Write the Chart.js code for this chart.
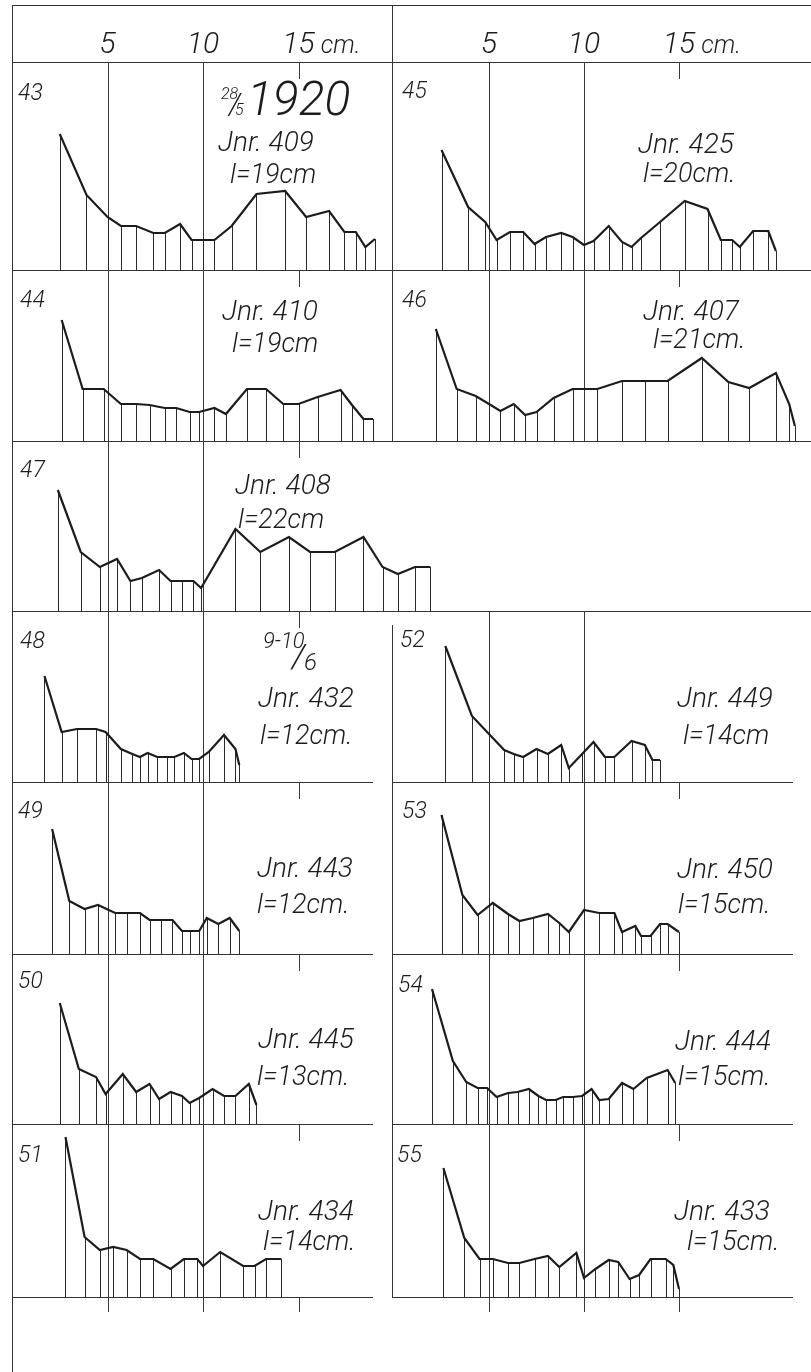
<!DOCTYPE html>
<html>
<head>
<meta charset="utf-8">
<script src="https://cdn.jsdelivr.net/npm/chart.js@4.4.1/dist/chart.umd.min.js"></script>
<style>
html, body { margin: 0; padding: 0; background: #fff; }
#sheet { position: relative; width: 811px; height: 1372px; overflow: hidden; background: #fff; }
.rule { position: absolute; background: #333; }
canvas { position: absolute; }
</style>
</head>
<body>
<div id="sheet"></div>
<script>
// cm scale ticks of the header
const headTicks = [5, 10, 15];
const headLabels = ['5', '10', '15'];

// each profile: positions along the body (cm) and heights
const x43 = [2.5, 3.9, 5.0, 5.7, 6.5, 7.4, 8.0, 8.8, 9.4, 10.0, 10.6, 11.5, 12.8, 14.3, 15.4, 16.6, 17.4, 18.0, 18.5, 19.0];
const y43 = [136, 75, 53, 44, 44, 37, 37, 46, 30, 30, 30, 44, 76, 79, 53, 59, 38, 38, 23, 31];

const x45 = [2.5, 3.9, 4.8, 5.4, 6.1, 6.8, 7.4, 8.0, 8.8, 9.4, 10.0, 10.5, 11.3, 12.0, 12.5, 13.0, 14.0, 15.3, 16.5, 17.2, 17.8, 18.2, 18.9, 19.7, 20.1];
const y45 = [120, 63, 48, 30, 38, 38, 26, 33, 37, 33, 25, 29, 44, 28, 23, 32, 48, 69, 61, 30, 30, 23, 39, 39, 19];

const x44 = [2.6, 3.7, 4.8, 5.7, 6.5, 7.2, 8.0, 8.6, 9.3, 9.8, 10.6, 11.2, 12.3, 13.3, 14.2, 15.0, 16.0, 17.2, 17.8, 18.4, 18.9];
const y44 = [121, 52, 52, 37, 37, 36, 33, 33, 29, 29, 33, 27, 52, 52, 37, 37, 44, 51, 36, 22, 22];

const x46 = [2.2, 3.3, 4.3, 5.0, 5.6, 6.3, 6.9, 7.5, 8.4, 9.4, 10.7, 12.0, 13.2, 14.4, 16.2, 17.6, 18.7, 20.1, 20.8, 21.1];
const y46 = [112, 52, 45, 37, 30, 37, 26, 29, 43, 52, 52, 60, 60, 60, 83, 59, 53, 68, 37, 15];

const x47 = [2.4, 3.6, 4.6, 5.5, 6.2, 6.8, 7.7, 8.3, 8.9, 9.5, 9.9, 11.7, 13.0, 14.5, 15.6, 16.9, 18.4, 19.4, 20.2, 21.1, 21.9];
const y47 = [121, 59, 44, 52, 30, 33, 41, 30, 30, 30, 23, 82, 59, 74, 59, 59, 74, 44, 37, 44, 44];

const x48 = [1.7, 2.6, 3.4, 4.4, 4.9, 5.7, 6.3, 6.7, 7.1, 7.6, 8.1, 8.5, 9.0, 9.4, 9.8, 10.3, 11.1, 11.7, 11.9];
const y48 = [106, 50, 53, 53, 50, 33, 28, 25, 29, 25, 25, 25, 29, 23, 23, 30, 47, 33, 17];

const x52 = [2.7, 4.1, 5.0, 5.8, 6.3, 6.8, 7.5, 8.1, 8.8, 9.2, 9.9, 10.5, 11.1, 11.6, 12.5, 13.2, 13.6, 14.0];
const y52 = [136, 66, 48, 32, 28, 25, 33, 28, 37, 14, 28, 40, 25, 25, 41, 37, 22, 22];

const x49 = [2.1, 3.0, 3.8, 4.5, 5.4, 6.0, 6.7, 7.2, 7.8, 8.4, 8.9, 9.3, 9.8, 10.2, 10.8, 11.4, 11.9];
const y49 = [125, 53, 45, 49, 41, 41, 41, 34, 34, 34, 23, 23, 23, 36, 30, 36, 23];

const x53 = [2.5, 3.6, 4.4, 5.2, 6.0, 6.6, 7.3, 8.1, 8.7, 9.2, 10.0, 10.8, 11.6, 12.0, 12.7, 13.0, 13.5, 14.0, 14.4, 15.0];
const y53 = [139, 59, 39, 51, 40, 33, 36, 40, 31, 22, 44, 41, 41, 22, 28, 18, 18, 30, 30, 22];

const x50 = [2.5, 3.5, 4.4, 4.9, 5.8, 6.5, 7.2, 7.7, 8.3, 8.9, 9.3, 9.8, 10.5, 11.1, 11.7, 12.4, 12.8];
const y50 = [121, 55, 47, 30, 50, 32, 40, 25, 32, 28, 21, 26, 35, 28, 28, 40, 19];

const x54 = [2.0, 3.1, 3.8, 4.4, 4.9, 5.4, 6.0, 6.5, 7.1, 7.6, 8.0, 8.5, 8.9, 9.4, 9.9, 10.4, 10.8, 11.3, 12.0, 12.6, 13.3, 14.4, 14.8];
const y54 = [135, 63, 42, 36, 36, 27, 31, 32, 35, 28, 24, 24, 27, 27, 28, 35, 24, 25, 41, 35, 46, 54, 41];

const x51 = [2.8, 3.8, 4.6, 5.3, 6.0, 6.7, 7.4, 8.3, 9.0, 9.7, 10.0, 10.9, 12.1, 12.7, 13.3, 14.1];
const y51 = [160, 60, 47, 50, 47, 38, 38, 28, 38, 38, 31, 45, 31, 31, 38, 38];

const x55 = [2.6, 3.7, 4.5, 5.2, 6.0, 6.6, 7.4, 8.1, 8.7, 9.6, 10.0, 10.6, 11.3, 11.8, 12.4, 12.9, 13.5, 14.3, 14.7, 15.0];
const y55 = [129, 59, 38, 38, 34, 34, 38, 41, 30, 44, 19, 28, 37, 35, 18, 22, 38, 38, 32, 8];

// layout of the sheet (page pixels)
const ROW_EDGES = [62, 270, 441, 611, 782, 954, 1124, 1297];
const COLS = {
    L: { left: 12, width: 382, max: 20 },
    R: { left: 394, width: 418, max: 22 },
    W: { left: 12, width: 450, max: 450 / 19.1 }
};
const FONT = 'Roboto, "Liberation Sans", "DejaVu Sans", sans-serif';
const INK = '#1c1c1c';

const panels = [
    { name: '43', col: 'L', row: 1, xs: x43, ys: y43, jnr: 'Jnr. 409', len: 'l=19cm',
      num: [18, 100], jp: [218, 151], lp: [230, 183] },
    { name: '45', col: 'R', row: 1, xs: x45, ys: y45, jnr: 'Jnr. 425', len: 'l=20cm.',
      num: [402, 98], jp: [638, 153], lp: [643, 182] },
    { name: '44', col: 'L', row: 2, xs: x44, ys: y44, jnr: 'Jnr. 410', len: 'l=19cm',
      num: [20, 307], jp: [222, 320], lp: [232, 352] },
    { name: '46', col: 'R', row: 2, xs: x46, ys: y46, jnr: 'Jnr. 407', len: 'l=21cm.',
      num: [402, 307], jp: [643, 320], lp: [653, 348] },
    { name: '47', col: 'W', row: 3, xs: x47, ys: y47, jnr: 'Jnr. 408', len: 'l=22cm',
      num: [20, 477], jp: [235, 494], lp: [238, 528] },
    { name: '48', col: 'L', row: 4, xs: x48, ys: y48, jnr: 'Jnr. 432', len: 'l=12cm.',
      num: [20, 648], jp: [258, 707], lp: [260, 744] },
    { name: '52', col: 'R', row: 4, xs: x52, ys: y52, jnr: 'Jnr. 449', len: 'l=14cm',
      num: [400, 647], jp: [677, 707], lp: [683, 744], noTick: true },
    { name: '49', col: 'L', row: 5, xs: x49, ys: y49, jnr: 'Jnr. 443', len: 'l=12cm.',
      num: [18, 818], jp: [257, 877], lp: [257, 913] },
    { name: '53', col: 'R', row: 5, xs: x53, ys: y53, jnr: 'Jnr. 450', len: 'l=15cm.',
      num: [402, 818], jp: [677, 878], lp: [678, 913] },
    { name: '50', col: 'L', row: 6, xs: x50, ys: y50, jnr: 'Jnr. 445', len: 'l=13cm.',
      num: [18, 988], jp: [258, 1048], lp: [257, 1085] },
    { name: '54', col: 'R', row: 6, xs: x54, ys: y54, jnr: 'Jnr. 444', len: 'l=15cm.',
      num: [398, 992], jp: [675, 1050], lp: [678, 1085] },
    { name: '51', col: 'L', row: 7, xs: x51, ys: y51, jnr: 'Jnr. 434', len: 'l=14cm.',
      num: [18, 1162], jp: [258, 1220], lp: [263, 1250] },
    { name: '55', col: 'R', row: 7, xs: x55, ys: y55, jnr: 'Jnr. 433', len: 'l=15cm.',
      num: [397, 1162], jp: [674, 1220], lp: [687, 1250] }
];

// dates written into two of the panels
const dateNotes = {
    '43': [['28', 221, 99, 16], ['/', 229, 114, 30], ['5', 235, 115, 16], ['1920', 247, 115, 48]],
    '48': [['9-10', 263, 648, 22], ['/', 292, 668, 34], ['6', 304, 670, 24]]
};

const sheet = document.getElementById('sheet');

function rule(x, y, w, h) {
    const d = document.createElement('div');
    d.className = 'rule';
    d.style.left = x + 'px';
    d.style.top = y + 'px';
    d.style.width = w + 'px';
    d.style.height = h + 'px';
    sheet.appendChild(d);
}

function write(ctx, txt, x, y, size, align) {
    ctx.font = 'italic 300 ' + size + 'px ' + FONT;
    ctx.textAlign = align || 'left';
    ctx.textBaseline = 'alphabetic';
    ctx.fillText(txt, x, y);
}

function addChart(left, top, width, height, config) {
    const c = document.createElement('canvas');
    c.width = width;
    c.height = height;
    c.style.left = left + 'px';
    c.style.top = top + 'px';
    c.style.width = width + 'px';
    c.style.height = height + 'px';
    sheet.appendChild(c);
    return new Chart(c, config);
}

function baseOptions(xMax, yMax) {
    return {
        responsive: false,
        animation: false,
        events: [],
        layout: { padding: 0, autoPadding: false },
        plugins: { legend: { display: false }, tooltip: { enabled: false } },
        scales: {
            x: { type: 'linear', display: false, min: 0, max: xMax },
            y: { type: 'linear', display: false, min: 0, max: yMax }
        }
    };
}

// grid lines at 5 and 10 cm, short tick at 15 cm, drop lines, written notes
function panelPlugin(p, left, top) {
    return {
        id: 'panel' + p.name,
        beforeDatasetsDraw(chart) {
            const { ctx, chartArea: a, scales: { x, y } } = chart;
            ctx.save();
            ctx.strokeStyle = '#3a3a3a';
            ctx.lineWidth = 1;
            ctx.beginPath();
            (p.full || [5, 10]).forEach(v => {
                const px = Math.round(x.getPixelForValue(v)) + 0.5;
                ctx.moveTo(px, a.top);
                ctx.lineTo(px, a.bottom);
            });
            (p.short || (p.noTick ? [] : [15])).forEach(v => {
                const px = Math.round(x.getPixelForValue(v)) + 0.5;
                ctx.moveTo(px, a.top);
                ctx.lineTo(px, a.top + (p.tick || 17));
            });
            ctx.stroke();

            // vertical drop from each measured point down to the base line
            const meta = chart.getDatasetMeta(0);
            if (meta && meta.data.length) {
                const base = y.getPixelForValue(0);
                ctx.strokeStyle = '#2a2a2a';
                ctx.beginPath();
                meta.data.forEach(pt => {
                    const px = Math.round(pt.x) + 0.5;
                    ctx.moveTo(px, pt.y);
                    ctx.lineTo(px, base);
                });
                ctx.stroke();
            }
            ctx.restore();
        },
        afterDraw(chart) {
            if (!p.jnr) return;
            const ctx = chart.ctx;
            ctx.save();
            ctx.fillStyle = INK;
            write(ctx, p.name, p.num[0] - left, p.num[1] - top, 23);
            write(ctx, p.jnr, p.jp[0] - left, p.jp[1] - top, 28);
            write(ctx, p.len, p.lp[0] - left, p.lp[1] - top, 27);
            (dateNotes[p.name] || []).forEach(d => {
                write(ctx, d[0], d[1] - left, d[2] - top, d[3]);
            });
            ctx.restore();
        }
    };
}

// header: cm scale written above each column
function headerPlugin() {
    return {
        id: 'head',
        afterDraw(chart) {
            const { ctx, scales: { x } } = chart;
            ctx.save();
            ctx.fillStyle = INK;
            headTicks.forEach((v, i) => {
                const px = x.getPixelForValue(v);
                write(ctx, headLabels[i], px, 48, 30, 'center');
                if (i === headTicks.length - 1) {
                    ctx.font = 'italic 300 30px ' + FONT;
                    const w = ctx.measureText(headLabels[i]).width;
                    write(ctx, 'cm.', px + w / 2 + 6, 48, 25);
                }
            });
            ctx.restore();
        }
    };
}

// frame of the sheet
rule(12, 5, 799, 1);
rule(12, 62, 799, 1);
[270, 441, 611].forEach(yy => rule(12, yy, 799, 1));
[782, 954, 1124, 1297].forEach(yy => {
    rule(12, yy, 361, 1);
    rule(392, yy, 401, 1);
});
rule(12, 5, 1, 1367);
rule(392, 5, 1, 437);
rule(392, 625, 1, 672);

// header charts
['L', 'R'].forEach(k => {
    const c = COLS[k];
    addChart(c.left, 5, c.width, 57, {
        type: 'line',
        data: { datasets: [] },
        options: baseOptions(c.max, 1),
        plugins: [headerPlugin()]
    });
});

// profile panels
panels.forEach(p => {
    const c = COLS[p.col];
    const top = ROW_EDGES[p.row - 1];
    const height = ROW_EDGES[p.row] - top;
    const pts = p.xs.map((v, i) => ({ x: v, y: p.ys[i] }));
    addChart(c.left, top, c.width, height, {
        type: 'line',
        data: {
            datasets: [{
                label: p.name,
                data: pts,
                borderColor: INK,
                borderWidth: 2.2,
                pointRadius: 0,
                tension: 0,
                fill: false,
                clip: false
            }]
        },
        options: baseOptions(c.max, height),
        plugins: [panelPlugin(p, c.left, top)]
    });
});

// empty strip at the bottom: only the scale ticks
['L', 'R'].forEach(k => {
    const c = COLS[k];
    const strip = { name: 'foot' + k, full: [], short: [5, 10, 15], tick: 15 };
    addChart(c.left, 1297, c.width, 75, {
        type: 'line',
        data: { datasets: [] },
        options: baseOptions(c.max, 1),
        plugins: [panelPlugin(strip, c.left, 1297)]
    });
});
</script>
</body>
</html>
